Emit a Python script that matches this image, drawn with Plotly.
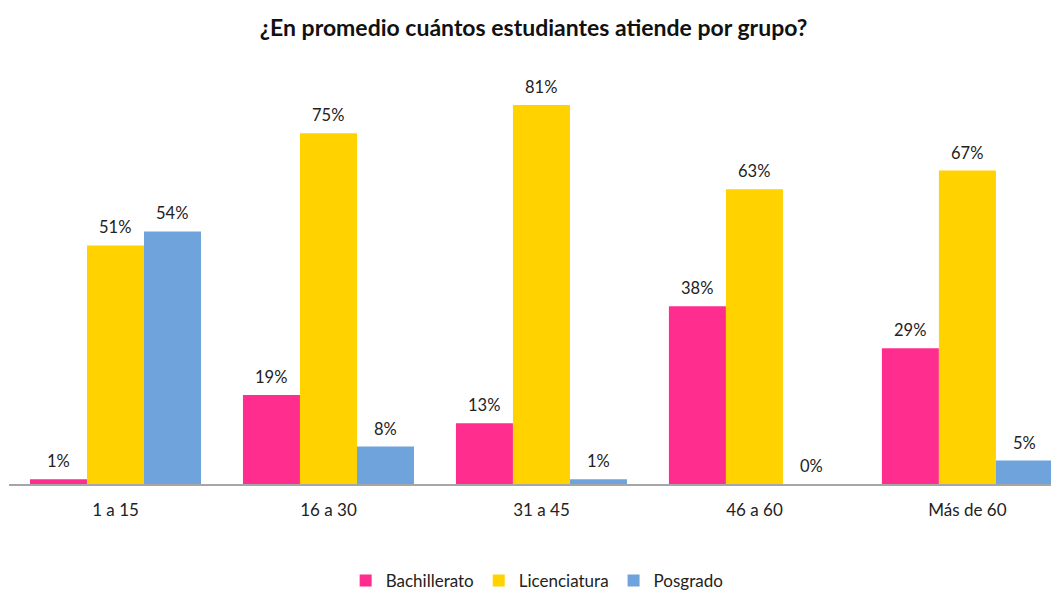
import plotly.graph_objects as go

categories = ["1 a 15", "16 a 30", "31 a 45", "46 a 60", "Más de 60"]
bachillerato = [1, 19, 13, 38, 29]
licenciatura = [51, 75, 81, 63, 67]
posgrado = [54, 8, 1, 0, 5]
series_names = ["Bachillerato", "Licenciatura", "Posgrado"]
colors = ["#FF2D8E", "#FFD200", "#6FA3DC"]

FONT = "Lato, 'Open Sans', sans-serif"
BAR_PX = 57  # pixel width of one bar, used to centre labels above grouped bars

fig = go.Figure()
all_series = [bachillerato, licenciatura, posgrado]
for name, vals, col in zip(series_names, all_series, colors):
    fig.add_trace(go.Bar(
        x=categories, y=vals, name=name,
        marker=dict(color=col, line=dict(width=0)),
        cliponaxis=False,
    ))

annotations = []
for i, vals in enumerate(all_series):
    for cat, v in zip(categories, vals):
        annotations.append(dict(
            x=cat, y=v, xref="x", yref="y", text=f"{v}%", showarrow=False,
            xshift=(i - 1) * BAR_PX, yshift=18, yanchor="middle",
            font=dict(size=16.5, color="#222222", family=FONT),
        ))

fig.update_layout(
    width=1051, height=583,
    paper_bgcolor="white", plot_bgcolor="white",
    barmode="group", bargap=0.197, bargroupgap=0,
    margin=dict(l=1, r=0, t=55, b=107, autoexpand=False),
    title=dict(text="<b>¿En promedio cuántos estudiantes atiende por grupo?</b>",
               x=0.5, xanchor="center", y=1 - 20 / 583, yanchor="middle",
               font=dict(size=23, color="#111111", family=FONT)),
    font=dict(family=FONT, size=16, color="#222222"),
    showlegend=True,
    legend=dict(orientation="h", x=0.503, xanchor="center", y=-0.23, yanchor="middle",
                font=dict(size=17, color="#222222", family=FONT),
                itemwidth=30, tracegroupgap=0),
    annotations=annotations,
)
fig.update_xaxes(range=[-0.5, 4.43], showline=True, linecolor="#A6A6A6", linewidth=2,
                 ticks="", showgrid=False, tickfont=dict(size=17, color="#222222"),
                 ticklabelstandoff=10)
fig.update_yaxes(range=[0, 90], visible=False, showgrid=False, zeroline=False)

fig.write_html("out.html")
